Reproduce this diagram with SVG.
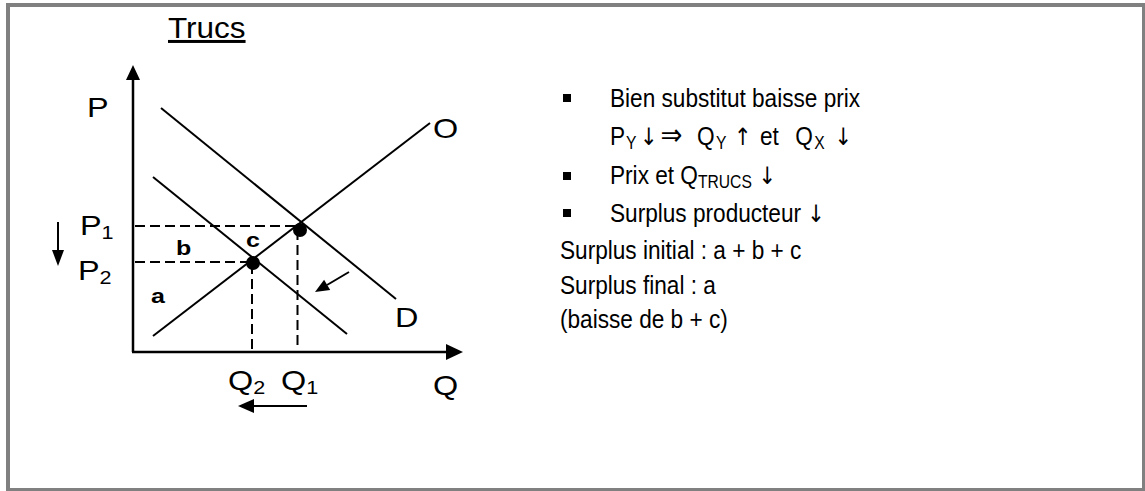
<svg xmlns="http://www.w3.org/2000/svg" width="1145" height="491" viewBox="0 0 1145 491">
<style>
.lbl{font-family:"Liberation Sans",Arial,sans-serif;font-size:27px;fill:#000}
.sub{font-size:18px}
.bold{font-family:"Liberation Sans",Arial,sans-serif;font-size:20px;font-weight:bold;fill:#000}
.txt{font-family:"Liberation Sans",Arial,"DejaVu Sans",sans-serif;font-size:26px;fill:#000}
.ts{font-size:18px}
.ar{font-family:"DejaVu Sans",sans-serif;font-size:24px}
.imp{font-family:"DejaVu Sans",sans-serif;font-size:30px}
.ln{stroke:#000;stroke-width:2;fill:none}
.ax{stroke:#000;stroke-width:2.5;fill:none}
.dash{stroke:#000;stroke-width:2;stroke-dasharray:10 5;fill:none}
</style>
<rect x="8" y="5" width="1136" height="485" fill="#fff" stroke="#808080" stroke-width="4"/>
<g id="title"><text class="lbl" style="font-size:30px" transform="translate(168,38) scale(1.05,1)" text-decoration="underline">Trucs</text></g>
<g id="axes">
<line class="ax" x1="133" y1="352" x2="133" y2="78"/>
<polygon points="133,65 126,80 140,80" fill="#000"/>
<line class="ax" x1="132" y1="352" x2="448" y2="352"/>
<polygon points="463,352 446,344 446,360" fill="#000"/>
</g>
<g id="curves">
<line class="ln" x1="153" y1="336" x2="430" y2="123"/>
<line class="ln" x1="161" y1="108" x2="396" y2="299"/>
<line class="ln" x1="153" y1="177" x2="347" y2="334"/>
</g>
<g id="connectors">
<line class="dash" x1="135" y1="226" x2="300" y2="226"/>
<line class="dash" x1="135" y1="262" x2="252" y2="262"/>
<line class="dash" x1="252" y1="264" x2="252" y2="350"/>
<line class="dash" x1="297.5" y1="230" x2="297.5" y2="350"/>
<line class="ln" x1="58" y1="222" x2="58" y2="252"/>
<polygon points="58,266 52,250 64,250" fill="#000"/>
<line class="ln" x1="307" y1="406" x2="252" y2="406"/>
<polygon points="238,406 254,399 254,413" fill="#000"/>
<line class="ln" x1="349" y1="272" x2="327" y2="285"/>
<polygon points="315,292 330.2,290.1 324.1,279.7" fill="#000"/>
</g>
<g id="points">
<circle cx="300" cy="230" r="7" fill="#000"/>
<circle cx="253" cy="263" r="7" fill="#000"/>
</g>
<g id="labels">
<text class="lbl" transform="translate(87,117) scale(1.2,1)">P</text>
<text class="lbl" transform="translate(80,235) scale(1.2,1)">P<tspan class="sub" dy="4">1</tspan></text>
<text class="lbl" transform="translate(78,280) scale(1.2,1)">P<tspan class="sub" dy="4">2</tspan></text>
<text class="lbl" transform="translate(433,138) scale(1.2,1)">O</text>
<text class="lbl" transform="translate(395,327) scale(1.2,1)">D</text>
<text class="lbl" transform="translate(433,395) scale(1.2,1)">Q</text>
<text class="lbl" transform="translate(228,390) scale(1.2,1)">Q<tspan class="sub" dy="4">2</tspan></text>
<text class="lbl" transform="translate(281,390) scale(1.2,1)">Q<tspan class="sub" dy="4">1</tspan></text>
<text class="bold" transform="translate(151,303) scale(1.25,1)">a</text>
<text class="bold" transform="translate(176,255) scale(1.25,1)">b</text>
<text class="bold" transform="translate(246,247) scale(1.25,1)">c</text>
</g>
<g id="notes">
<rect x="563" y="94" width="8" height="8" fill="#000"/>
<rect x="563" y="172" width="8" height="8" fill="#000"/>
<rect x="563" y="209" width="8" height="8" fill="#000"/>
<text class="txt" transform="translate(610,107) scale(0.87,1)">Bien substitut baisse prix</text>
<text class="txt" transform="translate(610,145) scale(0.87,1)"><tspan x="0">P</tspan><tspan class="ts" x="18.4" dy="4">Y</tspan><tspan class="ar" x="34.5" dy="-4">↓</tspan><tspan class="imp" x="58">⇒</tspan><tspan x="100">Q</tspan><tspan class="ts" x="121.8" dy="4">Y</tspan><tspan class="ar" x="142.5" dy="-4">↑</tspan><tspan x="172.4">et</tspan><tspan x="213">Q</tspan><tspan class="ts" x="234.8" dy="4">X</tspan><tspan class="ar" x="258" dy="-4">↓</tspan></text>
<text class="txt" transform="translate(610,184) scale(0.87,1)">Prix et Q<tspan class="ts" dy="4">TRUCS</tspan><tspan class="ar" dy="-4"> ↓</tspan></text>
<text class="txt" transform="translate(610,222) scale(0.87,1)">Surplus producteur <tspan class="ar">↓</tspan></text>
<text class="txt" transform="translate(560,259) scale(0.87,1)">Surplus initial : a + b + c</text>
<text class="txt" transform="translate(560,294) scale(0.87,1)">Surplus final : a</text>
<text class="txt" transform="translate(560,328) scale(0.87,1)">(baisse de b + c)</text>
</g>
</svg>
